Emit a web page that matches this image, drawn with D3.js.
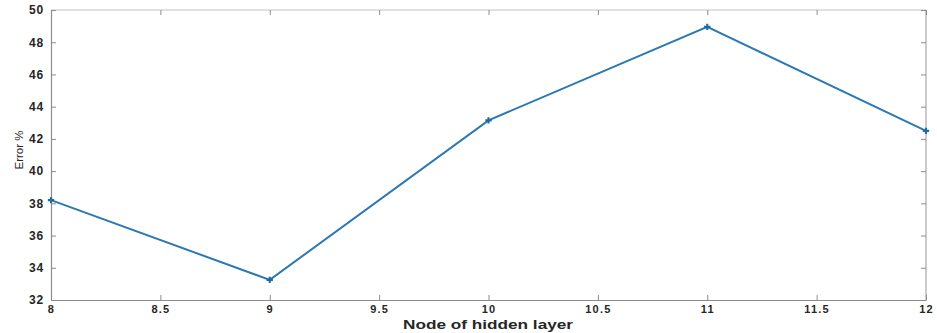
<!DOCTYPE html>
<html>
<head>
  <script src="https://d3js.org/d3.v7.min.js"></script>
  <style>
    body { margin: 0; background: #fff; }
    text { font-family: "Liberation Sans", Arial, sans-serif; font-weight: bold; fill: #262626; }
  </style>
</head>
<body>
  <script>
    // data
    var nodes = [8, 9, 10, 11, 12];
    var errors = [38.2, 33.25, 43.15, 48.95, 42.5];
    var xTicks = [8, 8.5, 9, 9.5, 10, 10.5, 11, 11.5, 12];
    var yTicks = [32, 34, 36, 38, 40, 42, 44, 46, 48, 50];

    var width = 937, height = 333;
    var m = { left: 51, right: 926, top: 10, bottom: 300 };

    var svg = d3.select('body').append('svg')
        .attr('width', width)
        .attr('height', height);

    var x = d3.scaleLinear().domain([8, 12]).range([m.left, m.right]);
    var y = d3.scaleLinear().domain([32, 50]).range([m.bottom, m.top]);

    // box: top and right drawn lighter
    svg.append('line').attr('x1', m.left).attr('x2', m.right).attr('y1', m.top).attr('y2', m.top)
        .attr('stroke', '#c4c4c4').attr('stroke-width', 1.2);
    svg.append('line').attr('x1', m.right).attr('x2', m.right).attr('y1', m.top).attr('y2', m.bottom)
        .attr('stroke', '#a8a8a8').attr('stroke-width', 1.2);

    // bottom and left axes, ticks point inward
    var xAxis = svg.append('g').attr('transform', 'translate(0,' + m.bottom + ')')
        .call(d3.axisBottom(x).tickValues(xTicks).tickSizeInner(-5).tickSizeOuter(0).tickPadding(5)
          .tickFormat(function (d) { return d3.format('')(d); }));
    var yAxis = svg.append('g').attr('transform', 'translate(' + m.left + ',0)')
        .call(d3.axisLeft(y).tickValues(yTicks).tickSizeInner(-5).tickSizeOuter(0).tickPadding(7));

    [xAxis, yAxis].forEach(function (g) {
      g.select('.domain').attr('stroke', '#8c8c8c').attr('stroke-width', 1.2);
      g.selectAll('.tick line').attr('stroke', '#8c8c8c');
    });
    xAxis.selectAll('.tick text').style('font-size', '11px').style('letter-spacing', '1.2px').attr('fill', '#262626');
    yAxis.selectAll('.tick text').style('font-size', '12px').style('letter-spacing', '0.8px').attr('fill', '#262626');

    // mirrored ticks on top and right
    svg.append('g').attr('transform', 'translate(0,' + m.top + ')')
        .call(d3.axisTop(x).tickValues(xTicks).tickSizeInner(-5).tickSizeOuter(0).tickFormat(''))
        .call(function (g) {
          g.select('.domain').remove();
          g.selectAll('.tick line').attr('stroke', '#8c8c8c');
        });
    svg.append('g').attr('transform', 'translate(' + m.right + ',0)')
        .call(d3.axisRight(y).tickValues(yTicks).tickSizeInner(-5).tickSizeOuter(0).tickFormat(''))
        .call(function (g) {
          g.select('.domain').remove();
          g.selectAll('.tick line').attr('stroke', '#8c8c8c');
        });

    // axis titles
    svg.append('text')
        .attr('x', 488)
        .attr('y', 329)
        .attr('text-anchor', 'middle')
        .attr('textLength', 170)
        .attr('lengthAdjust', 'spacingAndGlyphs')
        .style('font-size', '12px')
        .text('Node of hidden layer');

    svg.append('text')
        .attr('transform', 'translate(23,150) rotate(-90)')
        .attr('text-anchor', 'middle')
        .style('font-size', '11.5px')
        .style('font-weight', 'normal')
        .text('Error %');

    // the line
    var line = d3.line()
        .x(function (d, i) { return x(nodes[i]); })
        .y(function (d) { return y(d); });

    svg.append('path')
        .datum(errors)
        .attr('fill', 'none')
        .attr('stroke', '#2b78b4')
        .attr('stroke-width', 2)
        .attr('d', line);

    // plus markers
    svg.append('g').selectAll('path')
        .data(errors)
        .enter()
        .append('path')
        .attr('d', d3.symbol().type(d3.symbolCross).size(22))
        .attr('transform', function (d, i) { return 'translate(' + x(nodes[i]) + ',' + y(d) + ')'; })
        .attr('fill', '#1f6aa5');
  </script>
</body>
</html>
